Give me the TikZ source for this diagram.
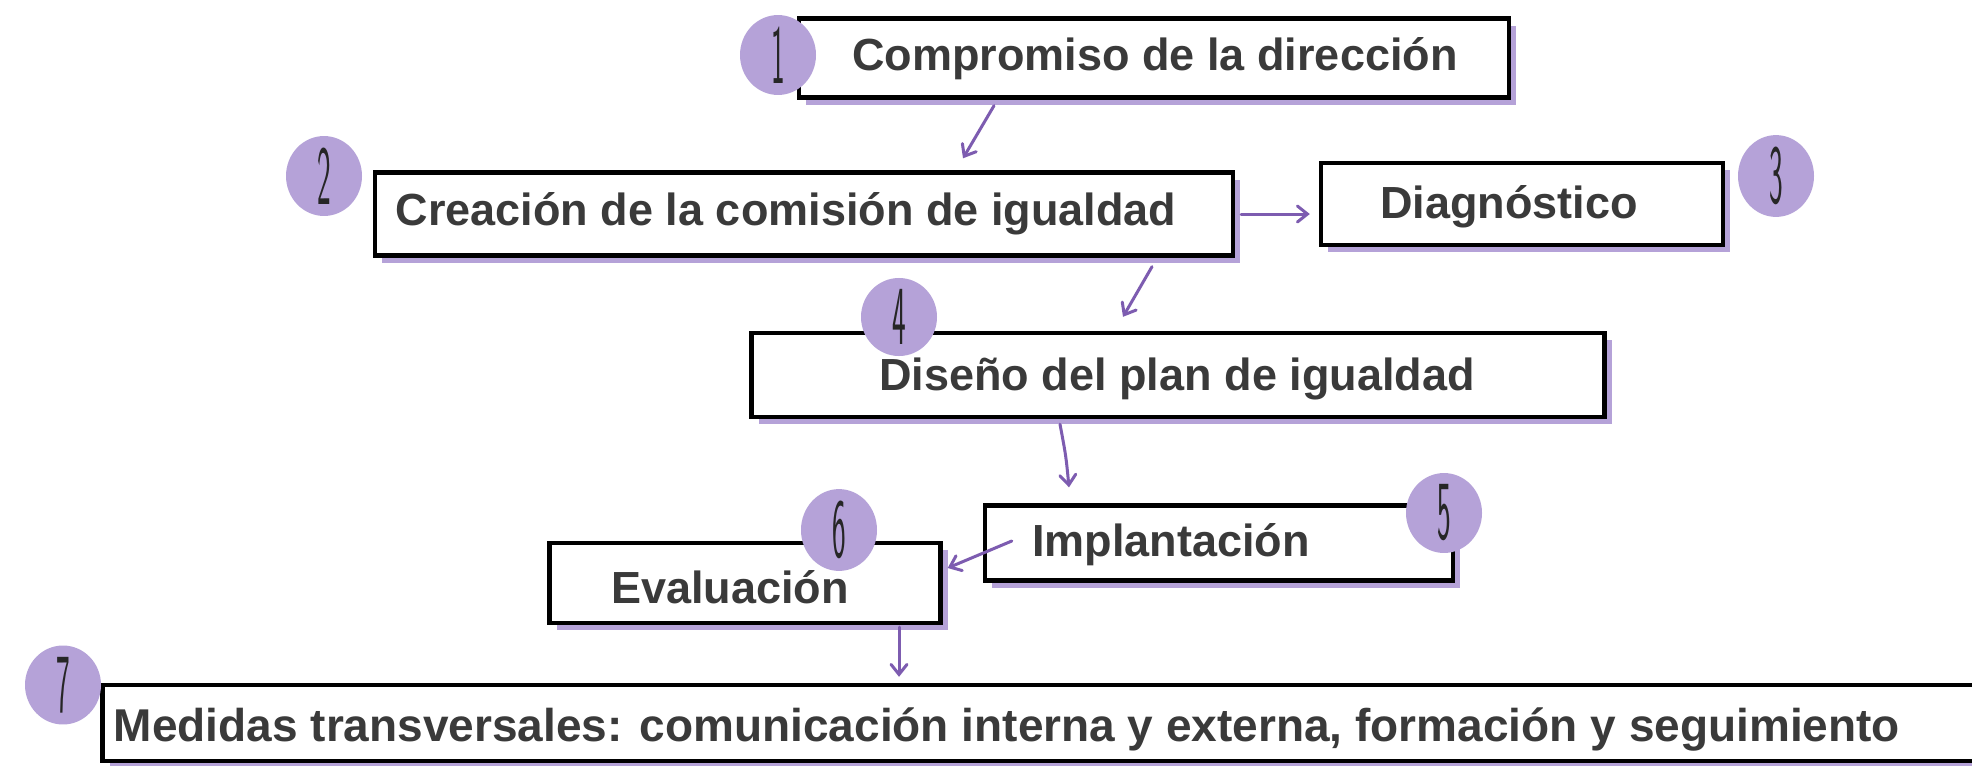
\documentclass[tikz,border=0pt]{standalone}
\usepackage{fontspec}
\usepackage{graphicx}
\setmainfont{Liberation Sans}
\usetikzlibrary{arrows.meta,shapes.geometric,shadows,calc}
\definecolor{lav}{HTML}{B5A2D8}
\definecolor{arrc}{HTML}{7D5CB0}
\definecolor{txtc}{HTML}{3A3A3A}
\newcommand{\hdigit}[1]{\scalebox{0.5}[1.45]{\sffamily #1}}
\begin{document}
\begin{tikzpicture}[x=0.5pt,y=-0.5pt,
  box/.style={draw=black, line width=2.2pt, fill=white, inner sep=0pt,
    drop shadow={shadow xshift=3.5pt, shadow yshift=-3.5pt, fill=lav, opacity=1}},
  lbl/.style={font=\fontsize{22.5}{27}\selectfont\bfseries, text=txtc, inner sep=0pt},
  numc/.style={ellipse, fill=lav, minimum width=38pt, minimum height=38pt, inner sep=0pt,
    font=\fontsize{29}{29}\selectfont, text=black!85},
  arr/.style={draw=arrc, line width=1.5pt, line cap=round,
    -{Straight Barb[length=5pt,width=8pt,line cap=round]}}]
\useasboundingbox[fill=white] (0,0) rectangle (1972,766);

% boxes
\node[box, minimum width=355pt, minimum height=39.5pt] (b1) at (1154,58) {};
\node[box, minimum width=429pt, minimum height=41.5pt] (b2) at (804,214) {};
\node[box, minimum width=201pt, minimum height=41pt] (b3) at (1522,204) {};
\node[box, minimum width=426.5pt, minimum height=42pt] (b4) at (1178,375) {};
\node[box, minimum width=234pt, minimum height=37.5pt] (b5) at (1219,543) {};
\node[box, minimum width=195.5pt, minimum height=40pt] (b6) at (745,583) {};
\node[box, minimum width=943.5pt, minimum height=38pt] (b7) at (1046,723) {};

% labels
\node[lbl] (t1) at (1155,59) {Compromiso de la dirección};
\node[lbl] (t2) at (786,214) {Creación de la comisión de igualdad};
\node[lbl] (t3) at (1509,207) {Diagnóstico};
\node[lbl] (t4) at (1177,379) {Diseño del plan de igualdad};
\node[lbl] (t5) at (1171,545) {Implantación};
\node[lbl] (t6) at (730,587) {Evaluación};
\node[lbl, font=\fontsize{23}{27}\selectfont\bfseries] (t7) at (1007,729) {Medidas transversales: comunicación interna y externa, formación y seguimiento};

% number circles
\node[numc] (c1) at (778,55) {\hdigit{1}};
\node[numc] (c2) at (324,176) {\hdigit{2}};
\node[numc] (c3) at (1776,176) {\hdigit{3}};
\node[numc] (c4) at (899,317) {\hdigit{4}};
\node[numc] (c5) at (1444,513) {\hdigit{5}};
\node[numc] (c6) at (839,530) {\hdigit{6}};
\node[numc] (c7) at (63,685) {\hdigit{7}};

% arrows
\draw[arr] ($(b1.south)+(-160,6)$) -- ($(b2.north)+(159,-12)$);
\draw[arr] ($(b2.east)+(6,0)$) -- ($(b3.west)+(-9,10)$);
\draw[arr] ($(b2.south)+(348,9)$) -- ($(b4.north)+(-55,-14)$);
\draw[arr] ($(b4.south)+(-118,5)$) .. controls ($(b4.south)+(-112,37)$) .. ($(b5.north)+(-150,-16)$);
\draw[arr] ($(b5.west)+(29,-2)$) -- ($(b6.east)+(5,-15)$);
\draw[arr] ($(b6.south)+(154,2)$) -- ($(b7.north)+(-147,-6)$);
\end{tikzpicture}
\end{document}
